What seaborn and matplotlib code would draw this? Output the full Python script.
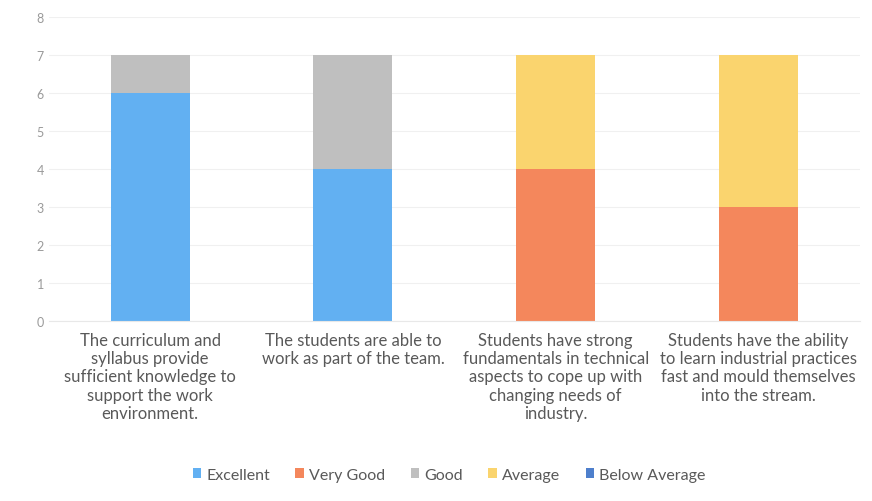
import pandas as pd
import numpy as np
import matplotlib
matplotlib.use('Agg')
import matplotlib.pyplot as plt
import seaborn as sns

#data
categories=['The curriculum and\nsyllabus provide\nsufficient knowledge to\nsupport the work\nenvironment.',
            'The students are able to\nwork as part of the team.',
            'Students have strong\nfundamentals in technical\naspects to cope up with\nchanging needs of\nindustry.',
            'Students have the ability\nto learn industrial practices\nfast and mould themselves\ninto the stream.']
series=['Excellent','Very Good','Good','Average','Below Average']
excellent=[6,4,0,0]
very_good=[0,0,4,3]
good=[1,3,0,0]
average=[0,0,3,4]
below_average=[0,0,0,0]
colors=['#62B0F2','#F4875C','#BFBFBF','#FAD46E','#4E7FCC']

sns.set_style('white')
plt.rcParams['font.family']=['Lato','DejaVu Sans']

df=pd.DataFrame({'cat':categories,'Excellent':excellent,'Very Good':very_good,
                 'Good':good,'Average':average,'Below Average':below_average})

fig=plt.figure(figsize=(8.72,5.02),dpi=100)
ax=fig.add_axes([0.056,0.359,0.93,0.605])

bottom=np.zeros(len(categories))
for s,c in zip(series,colors):
    sns.barplot(x='cat',y=s,data=df,color=c,bottom=bottom,width=0.39,ax=ax,label=s,
                saturation=1,errorbar=None,linewidth=0)
    bottom=bottom+df[s].values

ax.set_ylim(0,8)
ax.set_yticks(range(0,9))
ax.set_xlabel('')
ax.set_ylabel('')
ax.yaxis.grid(True,color='#F0F0F0',linewidth=0.8)
ax.set_axisbelow(True)
for sp in ax.spines.values():
    sp.set_visible(False)
ax.spines['bottom'].set_visible(True)
ax.spines['bottom'].set_color('#E8E8E8')
ax.tick_params(axis='y',colors='#9A9A9A',labelsize=9,length=0)
ax.tick_params(axis='x',colors='#595959',labelsize=12,length=0,pad=8)
for t in ax.get_xticklabels():
    t.set_linespacing(1.17)

handles,labels=ax.get_legend_handles_labels()
ax.get_legend().remove()
leg=fig.legend(handles[:5],labels[:5],loc='center',bbox_to_anchor=(0.515,0.052),ncol=5,frameon=False,
               fontsize=11.5,handlelength=0.55,handleheight=0.55,handletextpad=0.3,columnspacing=1.6)
for t in leg.get_texts():
    t.set_color('#595959')

plt.savefig('out.png',dpi=100)
